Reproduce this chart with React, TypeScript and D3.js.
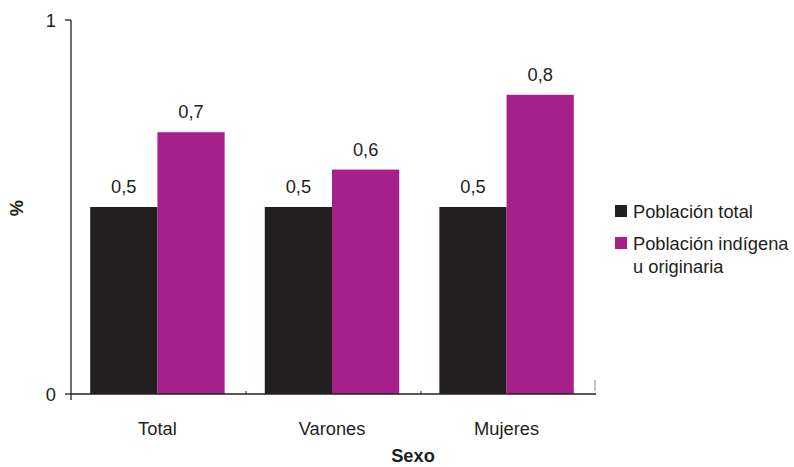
import React from "react";
import * as d3 from "d3";

const categories = ["Total", "Varones", "Mujeres"];
const seriesNames = ["Población total", "Población indígena u originaria"];
const poblacionTotal = [0.5, 0.5, 0.5];
const poblacionIndigena = [0.7, 0.6, 0.8];
const yTicks = [0, 1];
const colors = ["#231f20", "#a6208b"];

export default function App() {
  const W = 794, H = 467;
  const x0 = 71, x1 = 596, yTop = 20, yBot = 394;
  const x = d3.scaleBand<string>().domain(categories).range([x0, 593]).paddingInner(0.23).paddingOuter(0.11);
  const sub = d3.scaleBand<number>().domain([0, 1]).range([0, x.bandwidth()]);
  const y = d3.scaleLinear().domain([0, 1]).range([yBot, yTop]);
  const series = [poblacionTotal, poblacionIndigena];
  const font = "'Liberation Sans', Arial, Helvetica, sans-serif";
  const tc = "#231f20";
  const fs = 18.3;
  const fmt = (v: number) => v.toFixed(1).replace(".", ",");
  return (
    <svg width={W} height={H} style={{ position: "absolute", left: 0, top: 0 }} fontFamily={font}>
      <rect width={W} height={H} fill="#fff" />
      {series.map((vals, si) =>
        categories.map((c, i) => {
          const bx = (x(c) as number) + (sub(si) as number);
          return (
            <g key={`${si}-${i}`}>
              <rect x={bx} y={y(vals[i])} width={sub.bandwidth()} height={yBot - y(vals[i])} fill={colors[si]} />
              <text x={bx + sub.bandwidth() / 2} y={y(vals[i]) - 14} textAnchor="middle" fontSize={fs} fill={tc}>
                {fmt(vals[i])}
              </text>
            </g>
          );
        })
      )}
      <line x1={x0} x2={x0} y1={yTop} y2={yBot + 6} stroke={tc} strokeWidth={1.3} />
      <line x1={x0} x2={x1} y1={yBot} y2={yBot} stroke={tc} strokeWidth={1.3} />
      {yTicks.map((t) => (
        <g key={t}>
          <line x1={x0 - 6} x2={x0} y1={y(t)} y2={y(t)} stroke={tc} strokeWidth={1.3} />
          <text x={x0 - 15} y={y(t) + 7} textAnchor="end" fontSize={fs} fill={tc}>{t}</text>
        </g>
      ))}
      {[246, 421].map((tx) => (
        <line key={tx} x1={tx} x2={tx} y1={yBot} y2={yBot - 3} stroke={tc} strokeWidth={1} />
      ))}
      <line x1={595} x2={595} y1={380} y2={391} stroke="#888" strokeWidth={1} />
      {categories.map((c) => (
        <text key={c} x={(x(c) as number) + x.bandwidth() / 2} y={435} textAnchor="middle" fontSize={fs} fill={tc}>{c}</text>
      ))}
      <text x={413} y={462} textAnchor="middle" fontSize={fs} fontWeight="bold" fill={tc}>Sexo</text>
      <text transform="translate(23,208) rotate(-90)" textAnchor="middle" fontSize={fs} fontWeight="bold" fill={tc}>%</text>
      <rect x={615} y={205} width={12} height={12} fill={colors[0]} />
      <text x={633} y={218} fontSize={fs} fill={tc}>{seriesNames[0]}</text>
      <rect x={615} y={237} width={12} height={12} fill={colors[1]} />
      <text x={633} y={250} fontSize={fs} fill={tc}>Población indígena</text>
      <text x={633} y={273} fontSize={fs} fill={tc}>u originaria</text>
    </svg>
  );
}
